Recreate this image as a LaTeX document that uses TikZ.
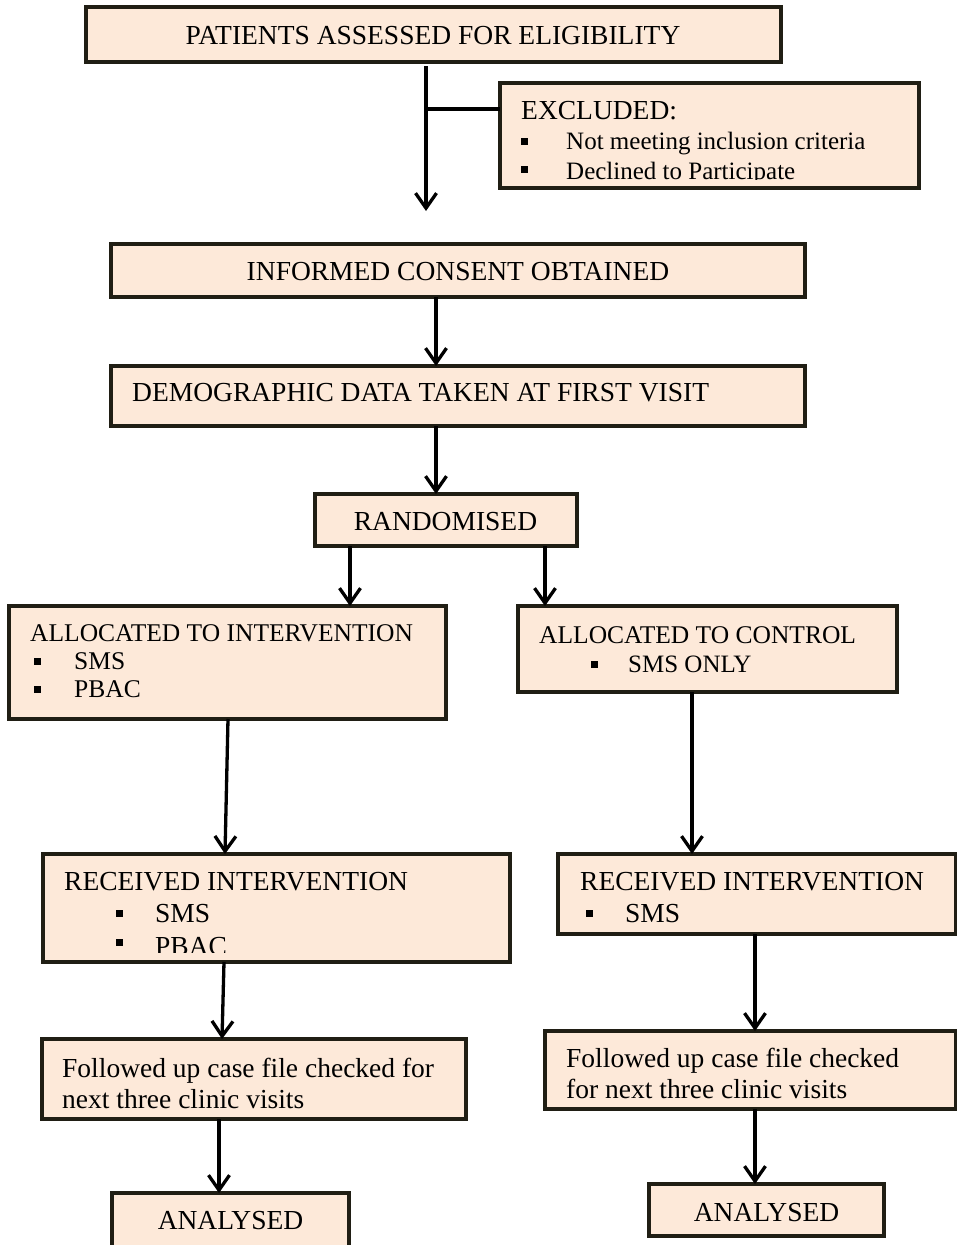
\documentclass[tikz,border=0pt]{standalone}
\usepackage{fontspec}
\setmainfont{Liberation Serif}
\usetikzlibrary{arrows.meta}
\definecolor{boxfill}{HTML}{FDE9D9}
\definecolor{boxline}{RGB}{32,30,20}
\newcommand\fA{\fontsize{27.5pt}{31pt}\selectfont}
\newcommand\fB{\fontsize{25.5pt}{29pt}\selectfont}
\newcommand\fC{\fontsize{25pt}{28pt}\selectfont}
\newcommand\mkbox[5]{\node[box,minimum width={#4pt-#2pt},minimum height={#5pt-#3pt}] (#1) at ({(#2+#4)/2},{(#3+#5)/2}) {};}
\tikzset{
  box/.style={draw=boxline,fill=boxfill,line width=4.5pt,rectangle,inner sep=0pt,outer sep=0pt},
  txt/.style={anchor=base west,inner sep=0pt,text=black},
  ctxt/.style={anchor=base,inner sep=0pt,text=black},
  bul/.style={fill=black,draw=none,rectangle,minimum size=7pt,inner sep=0pt},
  arr/.style={draw=black,line width=3.3pt,-{Straight Barb[length=15pt,width=21pt]}},
  ln/.style={draw=black,line width=3.3pt},
}
\begin{document}
\begin{tikzpicture}[x=1pt,y=-1pt]
\useasboundingbox (0,0) rectangle (957,1245);
\fill[white] (0,0) rectangle (957,1245);

% boxes
\mkbox{pat}{86}{7}{781}{62}
\mkbox{excl}{500}{83}{919}{188}
\mkbox{cons}{111}{244}{805}{297}
\mkbox{demo}{111}{366}{805}{426}
\mkbox{rand}{315}{494}{577}{546}
\mkbox{ai}{9}{606}{446}{719}
\mkbox{ac}{518}{606}{897}{692}
\mkbox{ri}{43}{854}{510}{962}
\mkbox{rc}{558}{854}{956}{934}
\mkbox{fi}{42}{1039}{466}{1119}
\mkbox{fc}{545}{1031}{956}{1109}
\mkbox{ani}{112}{1193}{349}{1262}
\mkbox{anc}{649}{1184}{884}{1236}

% texts
\node[ctxt,font=\fA] (tpat) at (433,44) {PATIENTS ASSESSED FOR ELIGIBILITY};
\node[txt,font=\fA] (texcl) at (521,119) {EXCLUDED:};
\begin{scope}
  \clip (excl.north west) rectangle (919,179.5);
  \node[bul] (b1) at (524.5,141) {};
  \node[txt,font=\fC] (texc1) at (566,149.5) {Not meeting inclusion criteria};
  \node[bul] (b2) at (524.5,169) {};
  \node[txt,font=\fC] (texc2) at (566,179) {Declined to Participate};
\end{scope}
\node[ctxt,font=\fA] (tcons) at (458,280) {INFORMED CONSENT OBTAINED};
\node[txt,font=\fA] (tdemo) at (132,401) {DEMOGRAPHIC DATA TAKEN AT FIRST VISIT};
\node[ctxt,font=\fA] (trand) at (445.5,530) {RANDOMISED};

\node[txt,font=\fB] (tai) at (30,641.5) {ALLOCATED TO INTERVENTION};
\node[bul] (b3) at (37.5,661) {};
\node[txt,font=\fB] (tai1) at (74,669.5) {SMS};
\node[bul] (b4) at (37.5,689) {};
\node[txt,font=\fB] (tai2) at (74,697.5) {PBAC};

\node[txt,font=\fB] (tac) at (539,643.5) {ALLOCATED TO CONTROL};
\node[bul] (b5) at (594.5,664) {};
\node[txt,font=\fC] (tac1) at (628,672.5) {SMS ONLY};

\node[txt,font=\fA] (tri) at (64,890) {RECEIVED INTERVENTION};
\begin{scope}
  \clip (ri.north west) rectangle (510,952);
  \node[bul] (b6) at (119.5,913) {};
  \node[txt,font=\fA] (tri1) at (155,922) {SMS};
  \node[bul] (b7) at (119.5,942) {};
  \node[txt,font=\fA] (tri2) at (155,955) {PBAC};
\end{scope}

\node[txt,font=\fA] (trc) at (580,890) {RECEIVED INTERVENTION};
\node[bul] (b8) at (589.5,913) {};
\node[txt,font=\fA] (trc1) at (625,922) {SMS};

\node[txt,font=\fA] (tfi1) at (62,1077) {Followed up case file checked for};
\node[txt,font=\fA] (tfi2) at (62,1108) {next three clinic visits};
\node[txt,font=\fA] (tfc1) at (566,1067) {Followed up case file checked};
\node[txt,font=\fA] (tfc2) at (566,1098) {for next three clinic visits};

\node[ctxt,font=\fA] (tani) at (230.5,1229) {ANALYSED};
\node[ctxt,font=\fA] (tanc) at (766.5,1221) {ANALYSED};

% connectors
\coordinate (s0) at (426,66);
\coordinate (j1) at (426,109);
\coordinate (t0) at (426,211);
\draw[ln] (s0) -- (j1);
\draw[arr] (j1) -- (t0);
\draw[ln] (j1) -- (j1 -| excl.west);

\coordinate (xa) at (436,0);
\draw[arr] (cons.south -| xa) -- (demo.north -| xa);
\draw[arr] (demo.south -| xa) -- (rand.north -| xa);

\coordinate (xb) at (350,0);
\coordinate (xc) at (545,0);
\draw[arr] (rand.south -| xb) -- (ai.north -| xb);
\draw[arr] (rand.south -| xc) -- (ac.north -| xc);

\coordinate (s1) at (228,719);
\coordinate (t1) at (225,854);
\draw[arr] (s1) -- (t1);
\coordinate (xd) at (692,0);
\draw[arr] (ac.south -| xd) -- (rc.north -| xd);

\coordinate (s2) at (224,962);
\coordinate (t2) at (222,1039);
\draw[arr] (s2) -- (t2);
\coordinate (xe) at (755,0);
\draw[arr] (rc.south -| xe) -- (fc.north -| xe);

\coordinate (xf) at (219,0);
\draw[arr] (fi.south -| xf) -- (ani.north -| xf);
\draw[arr] (fc.south -| xe) -- (anc.north -| xe);
\end{tikzpicture}
\end{document}
